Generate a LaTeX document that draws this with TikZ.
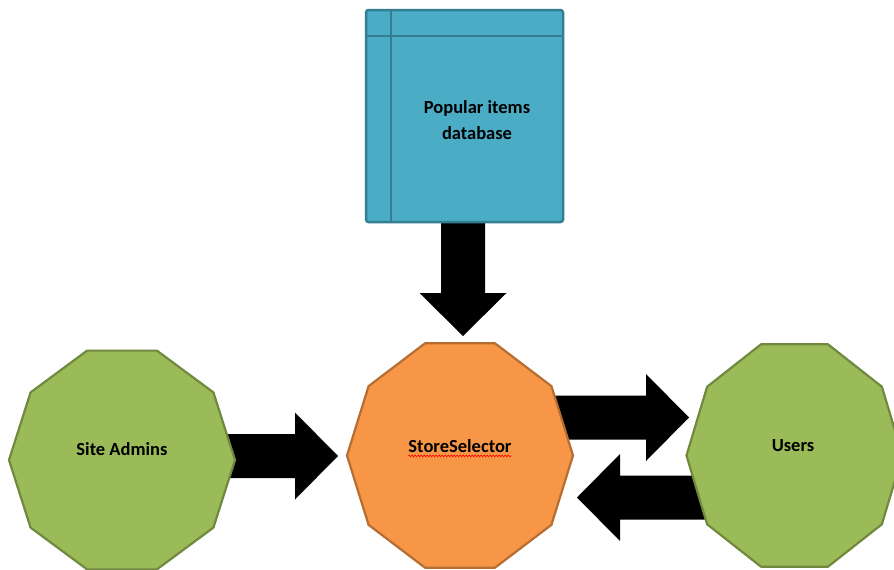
\documentclass[tikz,border=0pt]{standalone}
\usepackage{fontspec}
\setmainfont{Carlito}
\usetikzlibrary{calc,decorations.pathmorphing}
\definecolor{dbfill}{HTML}{4BACC6}
\definecolor{dbline}{HTML}{357D91}
\definecolor{orfill}{HTML}{F79646}
\definecolor{orline}{HTML}{B66D31}
\definecolor{grfill}{HTML}{9BBB59}
\definecolor{grline}{HTML}{71893F}
\newcommand\blkarrow[2]{%
  \fill[black] ($(#1)!22pt!90:(#2)$) -- ($($(#2)!43pt!(#1)$)!22pt!-90:(#1)$)
    -- ($($(#2)!43pt!(#1)$)!43.5pt!-90:(#1)$) -- (#2)
    -- ($($(#2)!43pt!(#1)$)!43.5pt!90:(#1)$) -- ($($(#2)!43pt!(#1)$)!22pt!90:(#1)$)
    -- ($(#1)!22pt!-90:(#2)$) -- cycle;}
\newcommand\decagonshape[4]{%
  \draw[#4] ($(#1)+(0:#2 and #3)$)
    \foreach \a in {36,72,...,324}{ -- ($(#1)+(\a:#2 and #3)$)} -- cycle;}
\tikzset{
  lbl/.style={font=\bfseries\fontsize{18.5}{26}\selectfont, text=black, inner sep=0pt, align=center},
  dbbox/.style={draw=dbline, fill=dbfill, line width=2.5pt, rounded corners=2.5pt, inner sep=0pt},
  dbsep/.style={draw=dbline, line width=2.5pt},
  orshape/.style={draw=orline, fill=orfill, line width=2.2pt, line join=round},
  grshape/.style={draw=grline, fill=grfill, line width=2.2pt, line join=round},
  squiggle/.style={draw=red, line width=0.6pt, decorate, decoration={snake, amplitude=0.9pt, segment length=3pt}},
}
\begin{document}
\begin{tikzpicture}[x=1pt,y=-1pt]
\useasboundingbox (0,0) rectangle (894,570);
\fill[white] (0,0) rectangle (894,570);
% centres
\coordinate (adminc) at (122,460);
\coordinate (storec) at (460,455.5);
\coordinate (usersc) at (794.5,455.5);
% arrow ends
\coordinate (dbA) at (463,215);
\coordinate (dbB) at (463,336);
\coordinate (adA) at (200,456);
\coordinate (adB) at (338,456);
\coordinate (suA) at (530,417.5);
\coordinate (suB) at (689,417.5);
\coordinate (usA) at (720,497.5);
\coordinate (usB) at (577,497.5);
\blkarrow{dbA}{dbB}
\blkarrow{adA}{adB}
\blkarrow{suA}{suB}
\blkarrow{usA}{usB}
% database
\node[dbbox, minimum width=197pt, minimum height=212pt] (db) at (464.5,116) {};
\draw[dbsep] ($(db.north west)+(26,0)$) -- ($(db.south west)+(26,0)$);
\draw[dbsep] ($(db.north west)+(0,27)$) -- ($(db.north east)+(0,27)$);
\node[lbl] (dbtext) at (477,120) {Popular items\\database};
% decagons
\decagonshape{adminc}{113pt}{115pt}{grshape}
\decagonshape{storec}{113pt}{118pt}{orshape}
\decagonshape{usersc}{108pt}{117pt}{grshape}
\node[lbl] (admin) at (122,449) {Site Admins};
\node[lbl] (store) at (460,446) {StoreSelector};
\node[lbl] (users) at (793,446) {Users};
\draw[squiggle] ($(store.base west)+(0,3.5)$) -- ($(store.base east)+(0,3.5)$);
\end{tikzpicture}
\end{document}
